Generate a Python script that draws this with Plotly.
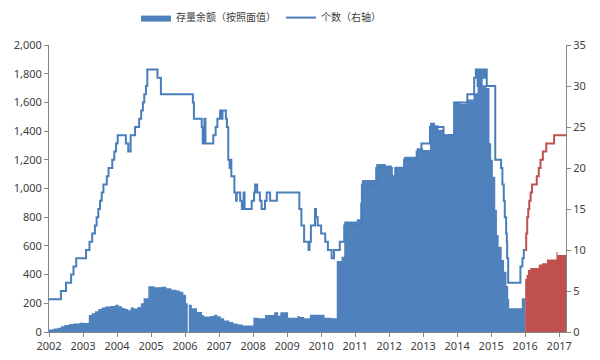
import plotly.graph_objects as go

# ---- data (fractional years, step values) ----
bar_t = [2002.00, 2002.13, 2002.25, 2002.35, 2002.45, 2002.60, 2002.72, 2002.90, 2003.05, 2003.17,
         2003.25, 2003.35, 2003.45, 2003.55, 2003.65, 2003.80, 2003.95, 2004.05, 2004.15, 2004.24,
         2004.33, 2004.40, 2004.50, 2004.60, 2004.70, 2004.78, 2004.92, 2005.10, 2005.30, 2005.45,
         2005.60, 2005.75, 2005.85, 2005.95, 2006.03, 2006.08, 2006.11, 2006.20, 2006.35, 2006.50,
         2006.55, 2006.75, 2006.85, 2006.95, 2007.05, 2007.15, 2007.30, 2007.42, 2007.55, 2007.70,
         2007.85, 2008.01, 2008.15, 2008.35, 2008.62, 2008.74, 2008.80, 2009.03, 2009.30, 2009.38,
         2009.50, 2009.67, 2010.10, 2010.30, 2010.46, 2010.60, 2010.68, 2011.05, 2011.15, 2011.20,
         2011.62, 2011.90, 2012.08, 2012.18, 2012.44, 2012.81, 2013.00, 2013.20, 2013.35, 2013.45,
         2013.60, 2013.75, 2013.91, 2014.10, 2014.28, 2014.48, 2014.60, 2014.86, 2014.95, 2015.00,
         2015.05, 2015.12, 2015.17, 2015.22, 2015.31, 2015.38, 2015.45, 2015.50, 2015.53, 2015.90,
         2016.00]
bar_v = [18, 25, 30, 40, 48, 55, 60, 65, 62, 118,
         130, 145, 160, 170, 178, 182, 190, 180, 168, 160,
         152, 170, 163, 175, 200, 235, 318, 312, 315, 305,
         295, 290, 280, 260, 200, 0, 190, 165, 140, 118,
         108, 112, 120, 110, 95, 80, 70, 60, 52, 45,
         45, 100, 95, 118, 137, 113, 137, 100, 110, 105,
         95, 120, 100, 95, 495, 525, 770, 785, 900, 1059,
         1171, 1160, 1087, 1152, 1222, 1280, 1268, 1459, 1440, 1410,
         1373, 1380, 1605, 1590, 1621, 1663, 1720, 1700, 1315, 1200,
         1082, 850, 676, 594, 502, 420, 320, 230, 165, 235,
         235]

bar_red_t = [2016.00, 2016.04, 2016.08, 2016.15, 2016.40, 2016.50, 2016.64, 2016.92, 2016.95, 2017.20]
bar_red_v = [370, 397, 432, 446, 470, 479, 505, 560, 537, 537]

cnt_t = [2002.00, 2002.35, 2002.50, 2002.65, 2002.72, 2002.80, 2003.09, 2003.19, 2003.27, 2003.35,
         2003.40, 2003.45, 2003.50, 2003.55, 2003.60, 2003.70, 2003.75, 2003.86, 2003.92, 2003.97,
         2004.02, 2004.26, 2004.33, 2004.40, 2004.53, 2004.65, 2004.71, 2004.76, 2004.80, 2004.85,
         2004.89, 2005.19, 2005.29, 2006.23, 2006.26, 2006.49, 2006.52, 2006.57, 2006.60, 2006.83,
         2006.90, 2006.95, 2007.03, 2007.08, 2007.10, 2007.20, 2007.23, 2007.27, 2007.31, 2007.34,
         2007.36, 2007.45, 2007.50, 2007.52, 2007.62, 2007.67, 2007.72, 2007.75, 2007.96, 2008.03,
         2008.06, 2008.12, 2008.20, 2008.25, 2008.35, 2008.40, 2008.50, 2008.70, 2009.36, 2009.42,
         2009.50, 2009.63, 2009.66, 2009.70, 2009.82, 2009.85, 2009.90, 2010.00, 2010.12, 2010.20,
         2010.31, 2010.38, 2010.55, 2010.68, 2011.20, 2011.62, 2012.08, 2012.18, 2012.44, 2012.81,
         2012.95, 2013.20, 2013.60, 2013.91, 2014.30, 2014.50, 2014.55, 2014.60, 2014.63, 2014.68,
         2014.72, 2014.78, 2014.82, 2014.87, 2015.12, 2015.29, 2015.33, 2015.37, 2015.40, 2015.44,
         2015.46, 2015.47, 2015.50, 2015.86, 2015.92, 2015.96, 2016.00]
cnt_v = [4, 5, 6, 7, 8, 9, 10, 11, 12, 13,
         14, 15, 16, 17, 18, 19, 20, 21, 22, 23,
         24, 23, 22, 24, 25, 26, 27, 28, 29, 30,
         32, 31, 29, 28, 26, 25, 23, 26, 23, 24,
         25, 26, 27, 26, 27, 26, 25, 21, 20, 21,
         19, 17, 16, 17, 16, 15, 17, 15, 16, 17,
         18, 17, 16, 15, 16, 17, 16, 17, 15, 13,
         11, 10, 11, 13, 15, 14, 13, 12, 11, 10,
         9, 10, 11, 13, 18, 20, 19, 20, 21, 22,
         23, 25, 24, 28, 29, 31, 32, 30, 32, 30,
         32, 31, 32, 30, 21, 20, 18, 16, 14, 12,
         11, 9, 6, 8, 9, 10, 10]

cnt_red_t = [2016.00, 2016.03, 2016.06, 2016.09, 2016.12, 2016.16, 2016.20, 2016.34, 2016.40, 2016.45,
             2016.52, 2016.62, 2016.85, 2017.20]
cnt_red_v = [10, 12, 14, 15, 16, 17, 18, 19, 20, 21,
             22, 23, 24, 24]

years = list(range(2002, 2018))

BLUE = "#4F81BD"
BLUE_LINE = "#4A7EBB"
RED = "#C0504D"
AXIS = "#868686"
FONT = "Noto Sans, Noto Sans CJK SC, sans-serif"

fig = go.Figure()
fig.add_trace(go.Scatter(x=bar_t, y=bar_v, mode="lines", line=dict(width=0, shape="hv"),
                         fill="tozeroy", fillcolor=BLUE, name="存量余额（按照面值）",
                         yaxis="y"))
fig.add_trace(go.Scatter(x=bar_red_t, y=bar_red_v, mode="lines", line=dict(width=0, shape="hv"),
                         fill="tozeroy", fillcolor=RED, showlegend=False, yaxis="y"))
fig.add_trace(go.Scatter(x=cnt_t, y=cnt_v, mode="lines", line=dict(width=2, color=BLUE_LINE, shape="hv"),
                         name="个数（右轴）", yaxis="y2"))
fig.add_trace(go.Scatter(x=cnt_red_t, y=cnt_red_v, mode="lines", line=dict(width=2, color=RED, shape="hv"),
                         showlegend=False, yaxis="y2"))

# page body has an 8px default margin, so the figure is 8px smaller and shifted
fig.update_layout(
    width=592, height=352,
    margin=dict(l=41, r=34, t=37, b=28, autoexpand=False),
    paper_bgcolor="white", plot_bgcolor="white",
    font=dict(family=FONT, size=11, color="#404040"),
    showlegend=True,
    legend=dict(orientation="h", x=0.41, xanchor="center", y=1.045, yanchor="bottom",
                font=dict(size=10, color="#404040"), itemwidth=30, tracegroupgap=0,
                bgcolor="rgba(0,0,0,0)"),
    xaxis=dict(range=[2002, 2017.2], tickvals=years, ticktext=[str(y) for y in years],
               showgrid=False, zeroline=False, showline=True, linecolor=AXIS, linewidth=1,
               ticks="outside", ticklen=4, tickcolor=AXIS, automargin=False,
               tickfont=dict(size=11, color="#404040")),
    yaxis=dict(range=[0, 2000], dtick=200, tickformat=",", showgrid=False, zeroline=False,
               showline=True, linecolor=AXIS, linewidth=1, ticks="outside", ticklen=4,
               tickcolor=AXIS, automargin=False, tickfont=dict(size=11, color="#404040")),
    yaxis2=dict(range=[0, 35], dtick=5, overlaying="y", side="right", showgrid=False,
                zeroline=False, showline=True, linecolor=AXIS, linewidth=1, ticks="outside",
                ticklen=4, tickcolor=AXIS, automargin=False,
                tickfont=dict(size=11, color="#404040")),
)

fig.write_html("out.html")
